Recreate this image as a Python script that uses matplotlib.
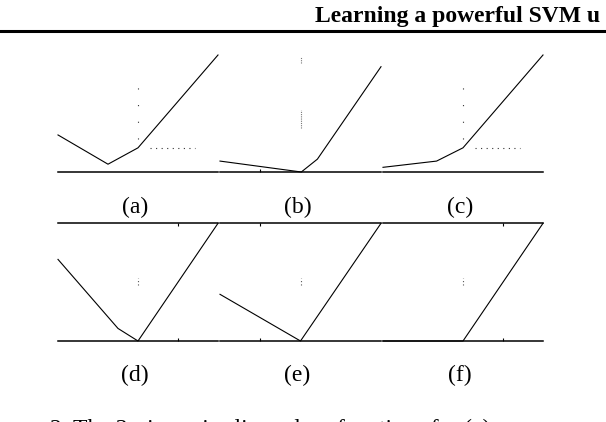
import matplotlib
matplotlib.use("Agg")
import matplotlib.pyplot as plt

# ---- data (piecewise linear loss functions, x in [-2, 2]) ----
labels = ["(a)", "(b)", "(c)", "(d)", "(e)", "(f)"]
xa = [-2.0, -0.75, 0.0, 2.0]
ya = [0.95, 0.20, 0.62, 3.0]
xb = [-2.0, 0.02, 0.42, 2.0]
yb = [0.28, 0.0, 0.33, 2.7]
xc = [-2.0, -0.66, 0.0, 2.0]
yc = [0.12, 0.28, 0.62, 3.0]
xd = [-2.0, -0.5, 0.0, 2.0]
yd = [2.08, 0.32, 0.0, 3.0]
xe = [-2.0, 0.0, 2.0]
ye = [1.19, 0.0, 3.0]
xf = [-2.0, 0.0, 2.0]
yf = [0.0, 0.0, 3.0]
series = [(xa, ya), (xb, yb), (xc, yc), (xd, yd), (xe, ye), (xf, yf)]
tick_x = [[], [-1.0], [], [1.0], [-1.0], [1.0]]

W, H = 606, 422
fig = plt.figure(figsize=(W / 100, H / 100), dpi=100)
fig.patch.set_facecolor("white")

cols = [(58, 218), (220, 381), (383, 543)]
rows = [(55, 172), (223.3, 341)]

serif = ["Liberation Serif", "DejaVu Serif"]

for i, (xs, ys) in enumerate(series):
    r, c = divmod(i, 3)
    x0, x1 = cols[c]
    y0, y1 = rows[r]
    ax = fig.add_axes([x0 / W, 1 - y1 / H, (x1 - x0) / W, (y1 - y0) / H])
    ax.set_xlim(-2, 2)
    ax.set_ylim(0, 3)
    for s in ["left", "right"]:
        ax.spines[s].set_visible(False)
    ax.spines["bottom"].set_linewidth(1.1)
    ax.spines["top"].set_linewidth(1.1)
    ax.spines["top"].set_visible(r == 1)
    ax.plot(xs, ys, color="black", lw=0.8, clip_on=False, solid_joinstyle="miter")
    ax.set_yticks([])
    ax.set_xticks(tick_x[i])
    ax.tick_params(axis="x", direction="in", length=2, width=0.8,
                   labelbottom=False, top=(r == 1))
    # faint dotted remnants of the original figure
    if i in (0, 2):
        ax.plot([0, 0], [0.85, 2.54], color="#333333", lw=0.8, ls=(0, (1, 14)))
        ax.plot([0.3, 1.43], [0.62, 0.62], color="#333333", lw=0.8, ls=(0, (1, 4)))
    if i == 1:
        ax.plot([0.02, 0.02], [1.13, 1.59], color="#777777", lw=0.8, ls=(0, (1, 1)))
        ax.plot([0.02, 0.02], [2.79, 2.95], color="#777777", lw=0.8, ls=(0, (1, 1)))
    if r == 1:
        ax.plot([0, 0], [1.42, 1.6], color="#555555", lw=0.8, ls=(0, (1, 2)))
    fig.text(((x0 + x1) / 2 - 3) / W, 1 - (207 if r == 0 else 375) / H, labels[i],
             ha="center", va="center", fontsize=17, family=serif)

# page header and rule
fig.text(315 / W, 1 - 22 / H, "Learning a powerful SVM u",
         ha="left", va="baseline", fontsize=17, fontweight="bold", family=serif)
fig.add_artist(plt.Line2D([0, 1], [1 - 30.5 / H, 1 - 30.5 / H], color="black", lw=2.2))

# caption (cut off at bottom of page crop)
fig.text(50 / W, 1 - 418.5 / H, "2. The 3-piecewise linear loss functions for (a)",
         ha="left", va="top", fontsize=17, family=serif)

fig.savefig("out.png", dpi=100)
